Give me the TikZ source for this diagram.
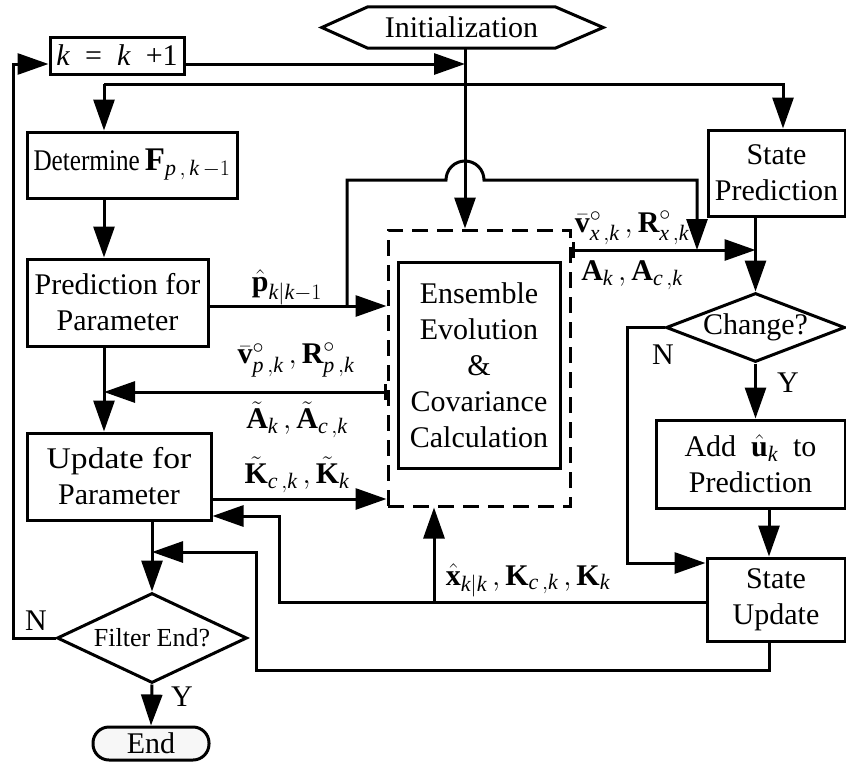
\RequirePackage{fix-cm}
\documentclass[tikz,border=0pt]{standalone}
\usepackage{amsmath}
\usepackage{graphicx}
\usepackage[no-math]{fontspec}
\setmainfont{Liberation Serif}
\usetikzlibrary{arrows.meta,shapes.geometric,calc}

% math sizes for the 30pt body text: larger indices
\DeclareMathSizes{30}{30}{22}{17}

% bold upright letter and italic index for the vector labels
\newcommand\bvec[1]{\text{\bfseries #1}}
\newcommand\isub[1]{\text{\itshape #1}}

\tikzset{
  base/.style={font=\fontsize{30}{36}\selectfont, inner sep=0pt, align=center},
  blk/.style={base, draw, line width=3pt, rectangle},
  cond/.style={base, draw, line width=3pt, diamond, aspect=2.6},
  ln/.style={line width=3pt},
  arr/.style={ln, -{Triangle[length=31pt,width=21pt]}},
  bararr/.style={ln, {Bar[width=16pt]}-{Triangle[length=31pt,width=21pt]}},
  lbl/.style={font=\fontsize{30}{36}\selectfont, inner sep=0pt},
  yn/.style={font=\fontsize{30}{36}\selectfont, inner sep=0pt},
}

\begin{document}
\begin{tikzpicture}[x=1pt,y=-1pt]
\useasboundingbox (0,0) rectangle (846,763);

% ---- blocks ----
\node[base, minimum width=187pt, minimum height=41pt] (init) at (461.5,27.5) {Initialization};
\draw[ln] (init.north west) -- (init.north east) -- ($(init.east)+(48,0)$)
  -- (init.south east) -- (init.south west) -- ($(init.west)+(-46,0)$) -- cycle;

\node[blk, minimum width=134pt, minimum height=37pt] (kk) at (117,55.5)
  {\textit{k}\enspace=\enspace\textit{k}\enspace+1};

\node[blk, minimum width=210pt, minimum height=66pt] (det) at (132,165)
  {\scalebox{0.84}[1]{Determine}$\,\text{\fontsize{33}{36}\selectfont\bfseries F}_{\isub{p}\,,\,\isub{k}\,-1}$};

\node[blk, minimum width=181pt, minimum height=87pt] (pred) at (117.5,302.5)
  {Prediction for\\Parameter};

\node[blk, minimum width=184pt, minimum height=87pt] (upd) at (119,476.5)
  {\scalebox{1.12}[1]{Update for}\\Parameter};

\node[cond, minimum width=190pt, minimum height=90pt, font=\fontsize{26}{30}\selectfont] (fe) at (152,638)
  {Filter End?};

\node[blk, rounded corners=16pt, fill=gray!6, minimum width=116pt, minimum height=33pt] (endn) at (151,743.5)
  {End};

\node[blk, minimum width=137pt, minimum height=86pt] (sp) at (776.5,173)
  {State\\Prediction};

\node[cond, minimum width=179pt, minimum height=69pt] (ch) at (755.5,327.5)
  {Change?};

\node[blk, minimum width=189pt, minimum height=88pt] (add) at (750.5,464)
  {Add~~$\hat{\bvec{u}}_{\isub{k}}$~~to\\Prediction};

\node[blk, minimum width=138pt, minimum height=83pt] (su) at (776,599.5)
  {State\\Update};

\node[draw, line width=3pt, dash pattern=on 16pt off 9pt, minimum width=182pt, minimum height=276pt, inner sep=0pt] (ens) at (479,368) {};

\node[blk, minimum width=162pt, minimum height=206pt] (ensin) at (479,365)
  {Ensemble\\Evolution\\\&\\Covariance\\Calculation};

% ---- routing columns and junctions ----
\coordinate (colL) at (104,0);
\coordinate (colI) at (465,0);
\coordinate (colR) at (783,0);
\coordinate (colU) at (769,0);
\coordinate (jk) at (465,64);
\coordinate (jtop) at (465,84);
\coordinate (jp) at (347,306);
\coordinate (jx) at (434,602);
\coordinate (jf) at (152,552);

% ---- connectors ----
\draw[arr] ([yshift=-8.5pt]kk.east) -- (jk);
\draw[arr] (init.south -| colI) -- (ens.north -| colI);
\draw[ln] (jtop) -- (jtop -| colL);
\draw[arr] (jtop -| colL) -- (det.north -| colL);
\draw[arr] (jtop) -| (sp.north -| colR);
\draw[arr] (det.south -| colL) -- (pred.north -| colL);
\draw[arr] (pred.south -| colL) -- (upd.north -| colL);

\draw[arr] (pred.east |- jp) -- (ens.west |- jp);
\draw[arr] (jp) -- (347,180) -- (446,180) arc[start angle=180,end angle=0,radius=19pt]
  -- (697,180) -- (697,250);

\draw[bararr] (ens.east |- 0,250) -- (ch.north |- 0,250);
\draw[arr] (sp.south -| ch.north) -- (ch.north);
\draw[bararr] (ens.west |- 0,392) -- (colL |- 0,392);
\draw[arr] (upd.east |- 0,499) -- (ens.west |- 0,499);

\draw[arr] (ch.west) -- (627,327.5) -- (627,563) -- (su.west |- 0,563);
\draw[arr] (ch.south) -- (add.north -| ch.south);
\draw[arr] (add.south -| colU) -- (su.north -| colU);

\draw[arr] (su.west |- jx) -- (279,602) -- (279,516) -- (upd.east |- 0,516);
\draw[arr] (jx) -- (ens.south -| jx);
\draw[arr] (su.south -| colU) -- (769,670) -- (256,670) -- (256,552) -- (jf);

\draw[arr] (upd.south -| fe.north) -- (fe.north);
\draw[arr] (fe.west) -- (13,638) -- (13,64) -- ([yshift=-8.5pt]kk.west);
\draw[arr] (fe.south) -- (endn.north);

% ---- branch labels ----
\node[yn] (n1) at (36,621) {N};
\node[yn] (y1) at (182,697) {Y};
\node[yn] (n2) at (663,355) {N};
\node[yn] (y2) at (788,383) {Y};

% ---- signal labels ----
\node[lbl] (lp) at (287,287) {$\hat{\bvec{p}}_{\isub{k}|\isub{k}-1}$};
\node[lbl] (lvp) at (296,360) {$\bar{\bvec{v}}^{\circ}_{\isub{p}\,,\isub{k}}\,,\bvec{R}^{\circ}_{\isub{p}\,,\isub{k}}$};
\node[lbl] (lap) at (297,420) {$\tilde{\bvec{A}}_{\isub{k}}\,,\tilde{\bvec{A}}_{\isub{c}\,,\isub{k}}$};
\node[lbl] (lkp) at (297,475) {$\tilde{\bvec{K}}_{\isub{c}\,,\isub{k}}\,,\tilde{\bvec{K}}_{\isub{k}}$};
\node[lbl] (lvx) at (632,228) {$\bar{\bvec{v}}^{\circ}_{\isub{x}\,,\isub{k}}\,,\bvec{R}^{\circ}_{\isub{x}\,,\isub{k}}$};
\node[lbl] (lax) at (632,275) {$\bvec{A}_{\isub{k}}\,,\bvec{A}_{\isub{c}\,,\isub{k}}$};
\node[lbl] (lxk) at (528,580) {$\hat{\bvec{x}}_{\isub{k}|\isub{k}}\,,\bvec{K}_{\isub{c}\,,\isub{k}}\,,\bvec{K}_{\isub{k}}$};
\end{tikzpicture}
\end{document}
